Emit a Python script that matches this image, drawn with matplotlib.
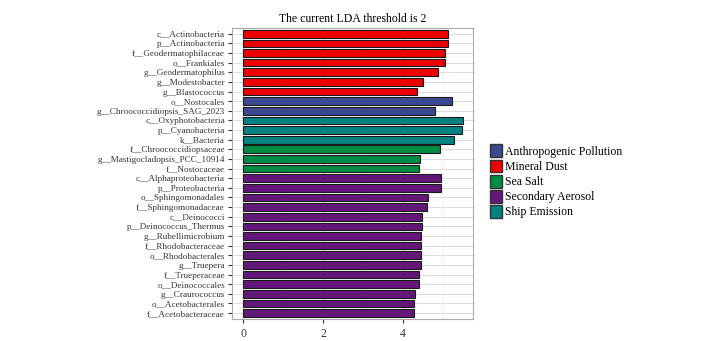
import matplotlib.pyplot as plt
from matplotlib.patches import Patch

plt.rcParams['font.family'] = ['Liberation Serif', 'DejaVu Serif']

# taxa from top to bottom
taxa = ['c__Actinobacteria', 'p__Actinobacteria', 'f__Geodermatophilaceae', 'o__Frankiales',
        'g__Geodermatophilus', 'g__Modestobacter', 'g__Blastococcus', 'o__Nostocales',
        'g__Chroococcidiopsis_SAG_2023', 'c__Oxyphotobacteria', 'p__Cyanobacteria', 'k__Bacteria',
        'f__Chroococcidiopsaceae', 'g__Mastigocladopsis_PCC_10914', 'f__Nostocaceae',
        'c__Alphaproteobacteria', 'p__Proteobacteria', 'o__Sphingomonadales', 'f__Sphingomonadaceae',
        'c__Deinococci', 'p__Deinococcus_Thermus', 'g__Rubellimicrobium', 'f__Rhodobacteraceae',
        'o__Rhodobacterales', 'g__Truepera', 'f__Trueperaceae', 'o__Deinococcales',
        'g__Craurococcus', 'o__Acetobacterales', 'f__Acetobacteraceae']
lda = [5.12, 5.12, 5.05, 5.05, 4.87, 4.49, 4.34, 5.23, 4.80, 5.49, 5.48, 5.27,
       4.92, 4.43, 4.40, 4.95, 4.95, 4.62, 4.59, 4.47, 4.47, 4.46, 4.45, 4.45,
       4.44, 4.41, 4.40, 4.30, 4.27, 4.27]
group = ['Mineral Dust'] * 7 + ['Anthropogenic Pollution'] * 2 + ['Ship Emission'] * 3 + \
        ['Sea Salt'] * 3 + ['Secondary Aerosol'] * 15

groups = ['Anthropogenic Pollution', 'Mineral Dust', 'Sea Salt', 'Secondary Aerosol', 'Ship Emission']
colors = {'Anthropogenic Pollution': '#3B4992', 'Mineral Dust': '#EE0000', 'Sea Salt': '#008B45',
          'Secondary Aerosol': '#631879', 'Ship Emission': '#008280'}

fig = plt.figure(figsize=(7.07, 3.41), dpi=100)
ax = fig.add_axes([0.328, 0.065, 0.341, 0.853])

n = len(taxa)
ypos = list(range(n))[::-1]
ax.barh(ypos, lda, height=0.8, color=[colors[g] for g in group],
        edgecolor='#1a1a1a', linewidth=0.8, zorder=3)

ax.set_yticks(ypos)
ax.set_yticklabels(taxa, fontsize=6.6, color='#333333')
ax.set_ylim(-0.6, n - 0.4)
ax.set_xlim(-0.28, 5.75)
ax.set_xticks([0, 2, 4])
ax.set_xticks([1, 3, 5], minor=True)
ax.tick_params(axis='x', labelsize=8.5, colors='#333333', length=3, which='major')
ax.tick_params(axis='x', which='minor', length=0)
ax.tick_params(axis='y', length=3, colors='#333333', pad=2)
ax.grid(True, which='major', color='#dddddd', linewidth=0.8, zorder=0)
ax.grid(True, which='minor', axis='x', color='#eeeeee', linewidth=0.5, zorder=0)
for s in ax.spines.values():
    s.set_color('#aaaaaa')
    s.set_linewidth(0.8)
ax.set_title('The current LDA threshold is 2', fontsize=8.5, pad=4)

handles = [Patch(facecolor=colors[g], edgecolor='#333333', label=g) for g in groups]
fig.legend(handles=handles, loc='center left', bbox_to_anchor=(0.686, 0.468), frameon=False,
           fontsize=8.5, handlelength=1.0, handleheight=1.3, handletextpad=0.3, labelspacing=0.15,
           borderaxespad=0)

fig.savefig('out.png', dpi=100)
